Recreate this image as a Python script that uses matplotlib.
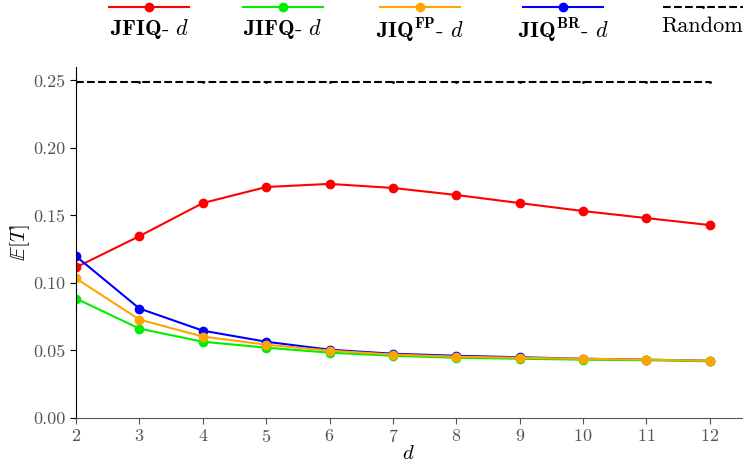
import matplotlib
matplotlib.use("Agg")
import matplotlib.pyplot as plt
from matplotlib.offsetbox import VPacker

plt.rcParams['font.family'] = 'serif'
plt.rcParams['font.serif'] = ['cmr10']
plt.rcParams['mathtext.fontset'] = 'cm'
plt.rcParams['axes.formatter.use_mathtext'] = True

d = [2, 3, 4, 5, 6, 7, 8, 9, 10, 11, 12]

jfiq = [0.1116, 0.1347, 0.1592, 0.1711, 0.1734, 0.1704, 0.1652, 0.1592, 0.1533, 0.1481, 0.1429]
jifq = [0.0885, 0.0662, 0.0565, 0.0521, 0.0484, 0.0461, 0.0446, 0.0439, 0.0432, 0.0428, 0.0420]
jiq_fp = [0.1034, 0.0729, 0.0603, 0.0543, 0.0499, 0.0470, 0.0454, 0.0446, 0.0439, 0.0432, 0.0424]
jiq_br = [0.1198, 0.0811, 0.0647, 0.0565, 0.0506, 0.0476, 0.0461, 0.0450, 0.0439, 0.0432, 0.0424]
random_val = 0.249

labels = [r'$\mathbf{JFIQ}$- $d$', r'$\mathbf{JIFQ}$- $d$',
          r'$\mathbf{JIQ}^{\mathbf{FP}}$- $d$', r'$\mathbf{JIQ}^{\mathbf{BR}}$- $d$',
          'Random']


def main():
    fig = plt.figure(figsize=(7.43, 4.63), dpi=100)
    ax = fig.add_axes([0.1023, 0.0972, 0.8957, 0.7581])

    kw = dict(marker='o', markersize=6, linewidth=1.5)
    l_red, = ax.plot(d, jfiq, color='red', label=labels[0], **kw)
    l_blue, = ax.plot(d, jiq_br, color='blue', label=labels[3], **kw)
    l_green, = ax.plot(d, jifq, color='#00ee00', label=labels[1], **kw)
    l_orange, = ax.plot(d, jiq_fp, color='orange', label=labels[2], **kw)
    l_rand, = ax.plot(d, [random_val] * len(d), color='black', linestyle='--',
                      marker='.', markersize=2, linewidth=1.5, label=labels[4])

    ax.set_xlim(2, 12.5)
    ax.set_ylim(0, 0.26)
    ax.set_xticks(d)
    ax.set_yticks([0.0, 0.05, 0.10, 0.15, 0.20, 0.25])
    ax.set_yticklabels(['0.00', '0.05', '0.10', '0.15', '0.20', '0.25'])

    for s in ['top', 'right']:
        ax.spines[s].set_visible(False)
    ax.spines['left'].set_color('black')
    ax.spines['bottom'].set_color('#555555')
    ax.tick_params(direction='out', length=4, labelsize=13, colors='#555555')
    ax.tick_params(axis='y', color='black')

    ax.set_xlabel(r'$d$', fontsize=15, labelpad=0)
    ax.set_ylabel(r'$\mathbb{E}[T]$', fontsize=15, labelpad=1)

    handles = [l_red, l_green, l_orange, l_blue, l_rand]
    leg = fig.legend(handles, labels, loc='upper center', ncol=5,
                     bbox_to_anchor=(0.574, 1.045), frameon=False,
                     fontsize=16, handlelength=3.6, columnspacing=2.4,
                     handletextpad=0.1)
    # stack each legend handle above its label
    for col in leg._legend_handle_box.get_children():
        for item in col.get_children():
            item.__class__ = VPacker
            item.align = 'center'

    fig.savefig('out.png', dpi=100)


if __name__ == '__main__':
    main()
